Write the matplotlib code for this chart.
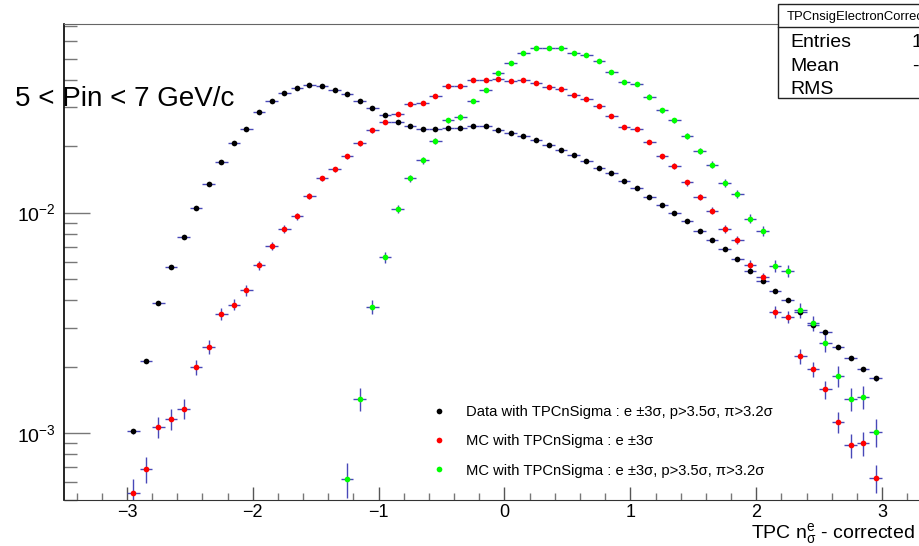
import numpy as np
import matplotlib
matplotlib.use("Agg")
import matplotlib.pyplot as plt
from matplotlib.patches import Rectangle
from matplotlib.lines import Line2D
from matplotlib.ticker import LogLocator, MultipleLocator, NullFormatter

plt.rcParams['font.family'] = ['Liberation Sans', 'DejaVu Sans']
plt.rcParams['mathtext.fontset'] = 'custom'
plt.rcParams['mathtext.rm'] = 'Liberation Sans'
plt.rcParams['mathtext.it'] = 'Liberation Sans:italic'
plt.rcParams['mathtext.sf'] = 'Liberation Sans'
plt.rcParams['axes.unicode_minus'] = True

# Histogram binning: 60 bins of width 0.1 between -3 and 3
n_bins = 60
x_min, x_max = -3.0, 3.0

# Normalised yields per bin
data_yield = [1.02e-3, 2.13e-3, 3.88e-3, 5.69e-3, 7.78e-3, 1.05e-2, 1.35e-2, 1.69e-2, 2.07e-2, 2.40e-2,
              2.85e-2, 3.21e-2, 3.49e-2, 3.69e-2, 3.80e-2, 3.74e-2, 3.60e-2, 3.44e-2, 3.22e-2, 2.99e-2,
              2.77e-2, 2.57e-2, 2.48e-2, 2.40e-2, 2.40e-2, 2.42e-2, 2.43e-2, 2.46e-2, 2.46e-2, 2.36e-2,
              2.30e-2, 2.23e-2, 2.14e-2, 2.03e-2, 1.92e-2, 1.82e-2, 1.71e-2, 1.59e-2, 1.51e-2, 1.39e-2,
              1.30e-2, 1.18e-2, 1.08e-2, 1.00e-2, 9.14e-3, 8.23e-3, 7.50e-3, 6.83e-3, 6.19e-3, 5.46e-3,
              4.90e-3, 4.43e-3, 4.03e-3, 3.54e-3, 3.10e-3, 2.87e-3, 2.47e-3, 2.19e-3, 1.95e-3, 1.77e-3]

mc_yield = [5.35e-4, 6.87e-4, 1.07e-3, 1.16e-3, 1.29e-3, 1.99e-3, 2.47e-3, 3.47e-3, 3.83e-3, 4.45e-3,
            5.77e-3, 7.04e-3, 8.41e-3, 9.63e-3, 1.19e-2, 1.43e-2, 1.57e-2, 1.80e-2, 2.06e-2, 2.36e-2,
            2.58e-2, 2.79e-2, 3.12e-2, 3.13e-2, 3.38e-2, 3.74e-2, 3.75e-2, 3.99e-2, 3.98e-2, 4.05e-2,
            3.95e-2, 3.99e-2, 3.88e-2, 3.72e-2, 3.62e-2, 3.40e-2, 3.27e-2, 3.05e-2, 2.74e-2, 2.45e-2,
            2.39e-2, 2.09e-2, 1.80e-2, 1.63e-2, 1.37e-2, 1.18e-2, 1.02e-2, 8.44e-3, 7.50e-3, 5.79e-3,
            5.09e-3, 3.54e-3, 3.36e-3, 2.24e-3, 1.95e-3, 1.58e-3, 1.12e-3, 8.83e-4, 9.01e-4, 6.25e-4]

# empty bins (nan) below -1.3 for the MC sample with hadron rejection
mc_cut_yield = [np.nan] * 17 + [
    6.21e-4, 1.43e-3, 3.75e-3, 6.28e-3, 1.04e-2, 1.43e-2, 1.73e-2, 2.12e-2, 2.62e-2, 2.72e-2,
    3.21e-2, 3.60e-2, 4.31e-2, 4.79e-2, 5.31e-2, 5.60e-2, 5.60e-2, 5.60e-2, 5.30e-2, 5.17e-2,
    4.85e-2, 4.35e-2, 3.91e-2, 3.83e-2, 3.36e-2, 2.91e-2, 2.62e-2, 2.23e-2, 1.90e-2, 1.65e-2,
    1.36e-2, 1.22e-2, 9.39e-3, 8.26e-3, 5.75e-3, 5.44e-3, 3.62e-3, 3.15e-3, 2.57e-3, 1.82e-3,
    1.43e-3, 1.46e-3, 1.01e-3]

# weight of a single entry after normalisation (sets the Poisson errors)
entry_weight = {"data": 8.0e-7, "mc": 1.33e-5, "mc_cut": 2.1e-5}

labels = ["Data with TPCnSigma : e \u00b13\u03c3, p>3.5\u03c3, \u03c0>3.2\u03c3",
          "MC with TPCnSigma : e \u00b13\u03c3",
          "MC with TPCnSigma : e \u00b13\u03c3, p>3.5\u03c3, \u03c0>3.2\u03c3"]
colors = ["black", "#ff0000", "#00ff00"]

edges = np.linspace(x_min, x_max, n_bins + 1)
centers = 0.5 * (edges[:-1] + edges[1:])
half_width = 0.5 * (edges[1] - edges[0])

W, H = 920, 546
fig = plt.figure(figsize=(W / 100, H / 100), dpi=100)
fig.patch.set_facecolor("white")


def fx(px):
    return px / W


def fy(py):
    return 1 - py / H


ax = fig.add_axes([fx(64), fy(499.5), fx(945 - 64), (499.5 - 24) / H])
ax.set_yscale("log")
ax.set_xlim(-3.5, 3.5)
ax.set_ylim(5.0e-4, 7.17e-2)

err_color = "#4848b8"
handles = []
series = [(data_yield, "data"), (mc_yield, "mc"), (mc_cut_yield, "mc_cut")]
for (vals, key), col in zip(series, colors):
    v = np.asarray(vals, dtype=float)
    ok = np.isfinite(v)
    yerr = np.sqrt(v[ok] * entry_weight[key])
    ax.errorbar(centers[ok], v[ok], xerr=half_width, yerr=yerr, fmt="none",
                ecolor=err_color, elinewidth=1.0, capsize=0, zorder=2)
    h, = ax.plot(centers[ok], v[ok], ls="none", marker="o", ms=4.1,
                 mec=col, mfc=col, mew=0, zorder=3)
    handles.append(h)

# axes styling
ax.spines["right"].set_visible(False)
ax.spines["left"].set_color("black")
ax.spines["left"].set_linewidth(1.2)
ax.spines["bottom"].set_color("#333333")
ax.spines["top"].set_color("#666666")

ax.xaxis.set_major_locator(MultipleLocator(1))
ax.xaxis.set_minor_locator(MultipleLocator(0.2))
ax.yaxis.set_major_locator(LogLocator(base=10))
ax.yaxis.set_minor_locator(LogLocator(base=10, subs=np.arange(2, 10)))
ax.yaxis.set_minor_formatter(NullFormatter())

ax.tick_params(axis="x", which="major", direction="in", length=9.4, width=1,
               color="#555555", top=False, labelsize=13, pad=3)
ax.tick_params(axis="x", which="minor", direction="in", length=4.8, width=1,
               color="#777777", top=False)
ax.tick_params(axis="y", which="major", direction="in", length=18.7, width=1,
               color="#777777", right=False, labelsize=14, pad=6)
ax.tick_params(axis="y", which="minor", direction="in", length=9.4, width=1,
               color="#777777", right=False)

# legend
ax.legend(handles, labels, loc="upper left",
          bbox_to_anchor=(fx(433.3), fy(405)), bbox_transform=fig.transFigure,
          frameon=False, fontsize=10.6, handlelength=0.75, handletextpad=1.45,
          labelspacing=1.04, borderpad=0, borderaxespad=0, numpoints=1)

# momentum range annotation
fig.text(fx(14.7), fy(106), "5 < Pin < 7 GeV/c", fontsize=20,
         ha="left", va="baseline")

# x-axis title
fig.text(fx(915), fy(538), r"TPC $\mathregular{n_{\sigma}^{e}}$ - corrected",
         fontsize=14, ha="right", va="baseline")

# statistics box
box = Rectangle((fx(778.3), fy(98.3)), fx(1000 - 778.3), (98.3 - 4) / H,
                transform=fig.transFigure, facecolor="white", edgecolor="#222222",
                linewidth=1.0, zorder=10, clip_on=False)
fig.add_artist(box)
fig.add_artist(Line2D([fx(778.3), fx(1000)], [fy(26.5), fy(26.5)],
                      transform=fig.transFigure, color="#222222", lw=1.0, zorder=11))
fig.text(fx(786.7), fy(20), "TPCnsigElectronCorrected", fontsize=9.4,
         ha="left", va="baseline", zorder=12)
for name, val, base in [("Entries", "1", 46.7), ("Mean", "-", 71), ("RMS", "", 94.3)]:
    fig.text(fx(790), fy(base), name, fontsize=14, ha="left", va="baseline", zorder=12)
    if val:
        fig.text(fx(911.7), fy(base), val, fontsize=14, ha="left", va="baseline", zorder=12)

fig.savefig("out.png", dpi=100)
